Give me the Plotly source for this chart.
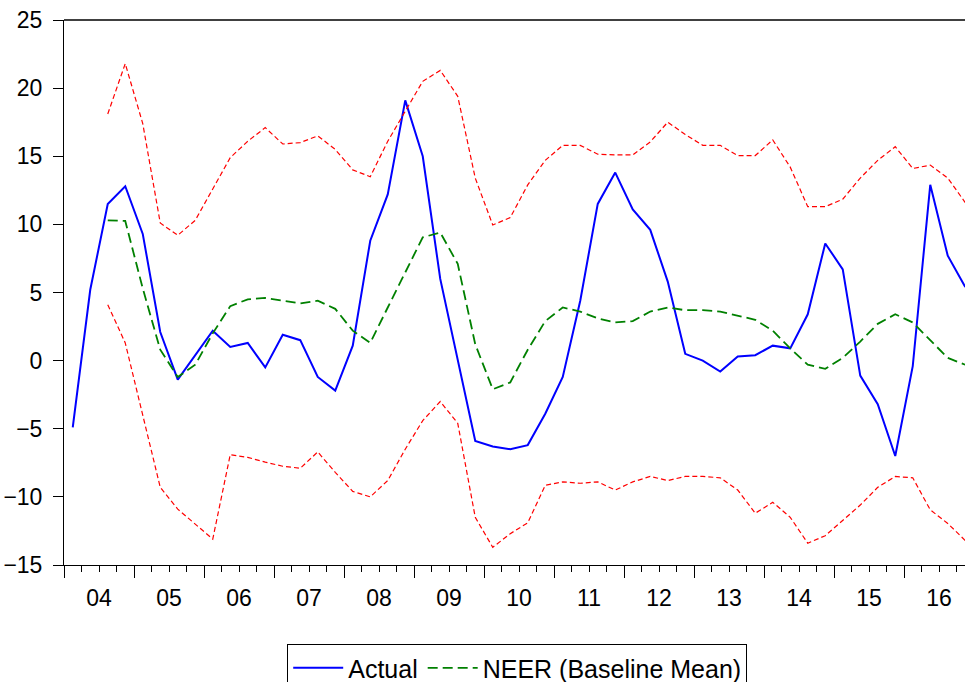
import plotly.graph_objects as go

# Quarterly 2004Q1 .. 2016Q4
years = list(range(2004, 2017))
quarters = [y + (q - 0.5) / 4 for y in years for q in range(1, 5)]
year_labels = ["04", "05", "06", "07", "08", "09", "10", "11", "12", "13", "14", "15", "16"]

actual = [-4.9, 5.2, 11.5, 12.8, 9.3, 2.1, -1.4, 0.4, 2.2, 1.0, 1.3, -0.5,
          1.9, 1.5, -1.2, -2.2, 1.1, 8.8, 12.2, 19.1, 15.0, 6.0, 0.0, -5.9,
          -6.3, -6.5, -6.2, -3.9, -1.2, 4.4, 11.5, 13.8, 11.1, 9.6, 5.8, 0.5,
          0.0, -0.8, 0.3, 0.4, 1.1, 0.9, 3.4, 8.6, 6.7, -1.1, -3.2, -7.0,
          -0.4, 12.9, 7.7, 5.4]

neer_mean = [None, None, 10.3, 10.25, 5.3, 0.8, -1.2, -0.3, 2.0, 4.0, 4.5, 4.6,
             4.4, 4.2, 4.4, 3.8, 2.2, 1.3, 3.9, 6.5, 9.05, 9.4, 7.1, 1.2,
             -2.1, -1.6, 0.8, 2.9, 3.9, 3.6, 3.1, 2.8, 2.9, 3.6, 3.9, 3.7,
             3.7, 3.6, 3.3, 3.0, 2.2, 0.9, -0.3, -0.6, 0.2, 1.4, 2.7, 3.4,
             2.8, 1.5, 0.2, -0.3]

upper = [None, None, 18.1, 21.8, 17.4, 10.1, 9.2, 10.3, 12.6, 14.9, 16.1, 17.1,
         15.9, 16.0, 16.5, 15.5, 14.0, 13.5, 16.1, 18.3, 20.5, 21.3, 19.4, 13.4,
         9.95, 10.5, 12.9, 14.7, 15.8, 15.8, 15.15, 15.1, 15.1, 16.05, 17.5, 16.6,
         15.8, 15.8, 15.05, 15.05, 16.2, 14.2, 11.3, 11.3, 11.85, 13.4, 14.7, 15.7,
         14.1, 14.35, 13.4, 11.6]

lower = [None, None, 4.1, 1.3, -4.0, -9.3, -10.9, -12.0, -13.1, -6.9, -7.1, -7.45,
         -7.75, -7.9, -6.7, -8.2, -9.6, -10.0, -8.8, -6.5, -4.4, -3.0, -4.6, -11.5,
         -13.7, -12.7, -11.9, -9.15, -8.9, -9.0, -8.9, -9.5, -8.9, -8.5, -8.8, -8.5,
         -8.5, -8.6, -9.5, -11.2, -10.4, -11.5, -13.4, -12.85, -11.7, -10.6, -9.3, -8.5,
         -8.6, -10.95, -11.95, -13.2]

font_family = "Liberation Sans, Arial, sans-serif"

fig = go.Figure()
fig.add_trace(go.Scatter(x=quarters, y=upper, mode="lines", showlegend=False, xaxis="x2",
                         line=dict(color="#ff0000", width=1.2, dash="5px,3px")))
fig.add_trace(go.Scatter(x=quarters, y=lower, mode="lines", showlegend=False, xaxis="x2",
                         line=dict(color="#ff0000", width=1.2, dash="5px,3px")))
fig.add_trace(go.Scatter(x=quarters, y=actual, mode="lines", name="Actual",
                         line=dict(color="#0000ff", width=2)))
fig.add_trace(go.Scatter(x=quarters, y=neer_mean, mode="lines", name="NEER (Baseline Mean)",
                         line=dict(color="#008000", width=1.8, dash="10px,5px")))

xr = [2004, 2004 + 901 / 70]

fig.update_layout(
    width=965, height=682,
    margin=dict(l=64, r=0, t=20, b=117, autoexpand=False),
    paper_bgcolor="white", plot_bgcolor="white",
    font=dict(family=font_family, size=23, color="black"),
    xaxis=dict(range=xr, showgrid=False, zeroline=False, automargin=False,
               showline=True, linecolor="black", linewidth=1,
               tickmode="array", tickvals=[y + 0.5 for y in years], ticktext=year_labels,
               ticks="", ticklabelstandoff=12,
               tickfont=dict(family=font_family, size=23, color="black")),
    xaxis2=dict(range=xr, overlaying="x", anchor="y", side="bottom", automargin=False,
                showgrid=False, zeroline=False, showline=False,
                tickmode="array", tickvals=years, showticklabels=False,
                ticks="outside", ticklen=12, tickcolor="black", tickwidth=1,
                minor=dict(dtick=0.25, tick0=2004, ticks="outside", ticklen=6,
                           tickcolor="black", tickwidth=1, showgrid=False)),
    yaxis=dict(range=[-15, 25], dtick=5, showgrid=False, zeroline=False, automargin=False,
               showline=True, linecolor="black", linewidth=1,
               ticks="outside", ticklen=10, tickcolor="black", tickwidth=1,
               ticklabelstandoff=6,
               tickfont=dict(family=font_family, size=23, color="black")),
    legend=dict(orientation="h", x=0.503, xanchor="center", y=-0.145, yanchor="top",
                bordercolor="black", borderwidth=1, bgcolor="white",
                font=dict(family=font_family, size=25, color="black"),
                itemwidth=50),
    shapes=[dict(type="line", xref="paper", yref="paper", x0=0, x1=1, y0=1, y1=1,
                 line=dict(color="black", width=1.5))],
    showlegend=True,
)

fig.write_html("out.html", config={"displayModeBar": False},
               post_script="document.body.style.margin='0';")
